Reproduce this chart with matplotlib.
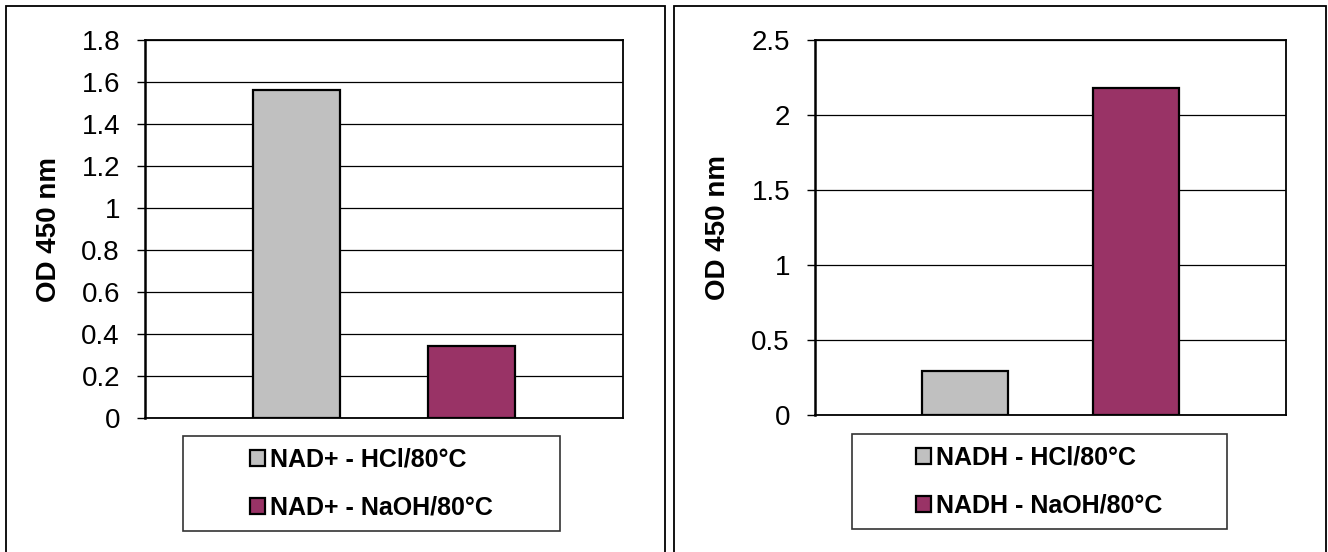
import matplotlib
matplotlib.use('Agg')
from matplotlib import pyplot as plt
from matplotlib.patches import Rectangle

plt.rcParams['font.family'] = ['Liberation Sans', 'DejaVu Sans']

# data
left_labels = ['NAD+ - HCl/80°C', 'NAD+ - NaOH/80°C']
left_values = [1.56, 0.345]
left_ticks = [0, 0.2, 0.4, 0.6, 0.8, 1, 1.2, 1.4, 1.6, 1.8]
left_ticklabels = ['0', '0.2', '0.4', '0.6', '0.8', '1', '1.2', '1.4', '1.6', '1.8']

right_labels = ['NADH - HCl/80°C', 'NADH - NaOH/80°C']
right_values = [0.295, 2.18]
right_ticks = [0, 0.5, 1, 1.5, 2, 2.5]
right_ticklabels = ['0', '0.5', '1', '1.5', '2', '2.5']

colors = ['#C0C0C0', '#993366']

W, H = 1328, 552
fig = plt.figure(figsize=(W / 100, H / 100), dpi=100)


def px(x0, y0, x1, y1):
    # pixel box (top-left origin) -> figure fraction rect
    return [x0 / W, 1 - y1 / H, (x1 - x0) / W, (y1 - y0) / H]


def panel(frame, axbox, legbox, labels, values, ticks, ticklabels, ylab_x):
    # outer panel frame
    fx0, fy0, fx1, fy1 = frame
    fig.patches.append(Rectangle((fx0 / W, 1 - fy1 / H), (fx1 - fx0) / W, (fy1 - fy0) / H,
                                 transform=fig.transFigure, fill=False,
                                 edgecolor='black', linewidth=1.3, clip_on=False))
    ax = fig.add_axes(px(*axbox))
    handles = []
    for i, (lab, val) in enumerate(zip(labels, values)):
        b = ax.bar(i, val, width=0.5, color=colors[i], edgecolor='black',
                   linewidth=1.6, label=lab, zorder=3)
        handles.append(b)
    span = 2.745
    ax.set_xlim(0.5 - span / 2, 0.5 + span / 2)
    ax.set_ylim(ticks[0], ticks[-1])
    ax.set_yticks(ticks)
    ax.set_yticklabels(ticklabels)
    ax.set_xticks([])
    ax.grid(axis='y', color='black', linewidth=0.9, zorder=0)
    ax.tick_params(axis='y', direction='out', length=6, width=1, pad=12,
                   labelsize=20, colors='black')
    for s in ['top', 'right', 'bottom']:
        ax.spines[s].set_linewidth(1.3)
    ax.spines['left'].set_linewidth(1.8)
    ax.set_ylabel('OD 450 nm', fontsize=20, fontweight='bold')
    ax.yaxis.set_label_coords((ylab_x - axbox[0]) / (axbox[2] - axbox[0]), 0.5)

    # legend box
    lx0, ly0, lx1, ly1 = legbox
    fig.patches.append(Rectangle((lx0 / W, 1 - ly1 / H), (lx1 - lx0) / W, (ly1 - ly0) / H,
                                 transform=fig.transFigure, fill=False,
                                 edgecolor='#333333', linewidth=1.2, clip_on=False))
    leg = fig.legend(handles=handles, loc='center',
                     bbox_to_anchor=((lx0 + lx1) / 2 / W, 1 - (ly0 + ly1) / 2 / H),
                     frameon=False, prop={'size': 18, 'weight': 'bold'},
                     handlelength=0.6, handleheight=0.6,
                     handletextpad=0.2, labelspacing=0.95, borderpad=0)
    for p in leg.get_patches():
        p.set_linewidth(1.6)
    return ax


panel((6, 6, 665, 560), (145, 40, 623, 418), (183, 436, 560, 531),
      left_labels, left_values, left_ticks, left_ticklabels, 62)
panel((674, 6, 1326, 560), (815, 40, 1286, 415), (852, 434, 1227, 529),
      right_labels, right_values, right_ticks, right_ticklabels, 731)

plt.savefig('out.png', dpi=100)
plt.close()
